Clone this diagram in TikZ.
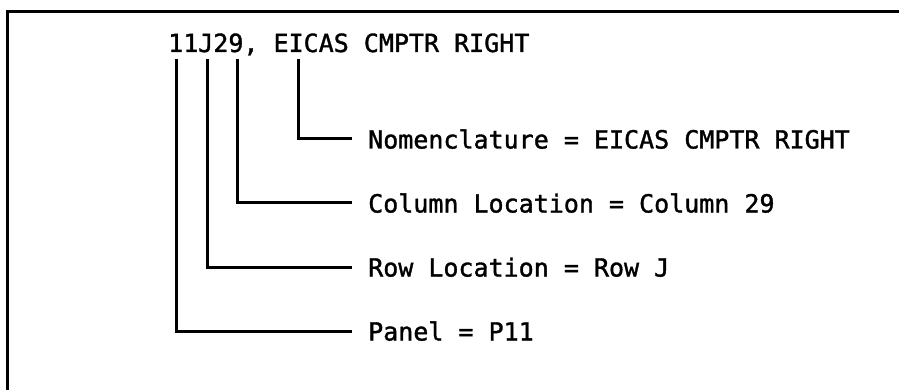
\documentclass[tikz,border=0pt]{standalone}
\usepackage{fontspec}
\setmonofont[RawFeature={embolden=1.4}]{DejaVu Sans Mono}
\begin{document}
\begin{tikzpicture}[x=1pt,y=-1pt,font=\ttfamily\fontsize{25}{30}\selectfont,
  lbl/.style={anchor=west,inner sep=0pt,text height=19pt,text depth=0pt},
  lead/.style={line width=3pt}]
\useasboundingbox (0,0) rectangle (899,390);
\begin{scope}
\clip (0,0) rectangle (899,390);
\draw[line width=3pt] (7,12) rectangle (930,420);
\end{scope}
\node[anchor=base west,inner sep=0pt] (ref) at (168,52) {11J29, EICAS CMPTR RIGHT};
\node[lbl] (nom) at (368,139) {Nomenclature = EICAS CMPTR RIGHT};
\node[lbl] (col) at (368,203) {Column Location = Column 29};
\node[lbl] (row) at (368,267) {Row Location = Row J};
\node[lbl] (pnl) at (368,331) {Panel = P11};
% drop points under the reference
\coordinate (nomtop) at (298,59);
\coordinate (coltop) at (237,59);
\coordinate (rowtop) at (207,59);
\coordinate (pnltop) at (176,59);
\draw[lead] (nomtop) |- ([xshift=-16pt]nom.west);
\draw[lead] (coltop) |- ([xshift=-16pt]col.west);
\draw[lead] (rowtop) |- ([xshift=-16pt]row.west);
\draw[lead] (pnltop) |- ([xshift=-16pt]pnl.west);
\end{tikzpicture}
\end{document}
